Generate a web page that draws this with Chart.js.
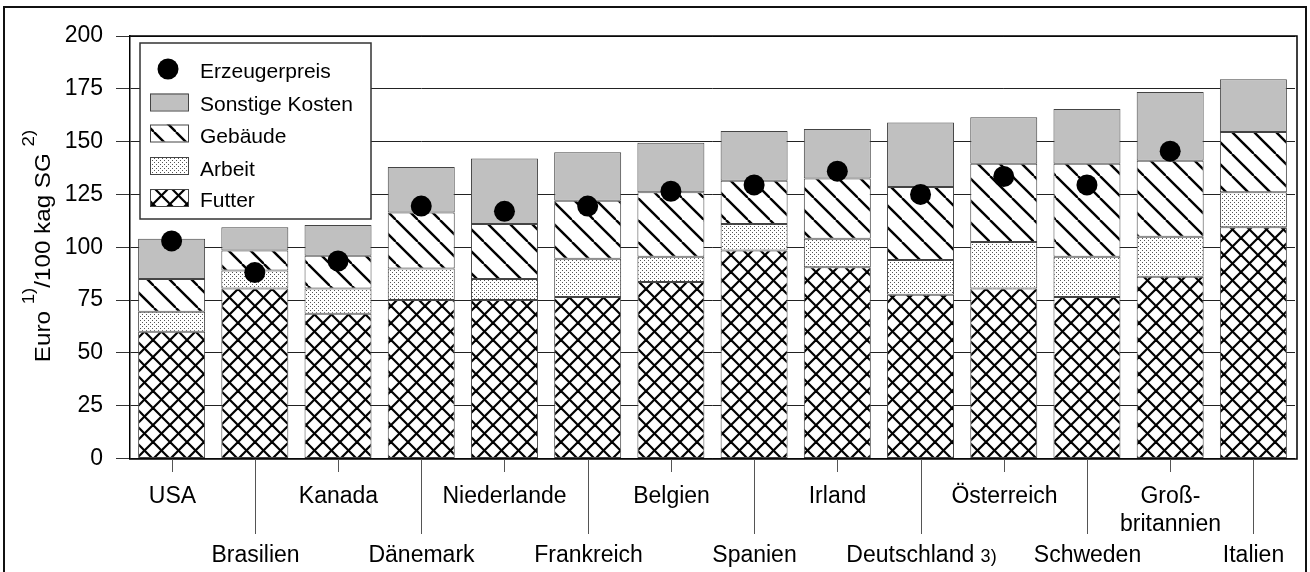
<!DOCTYPE html>
<html>
<head>
<meta charset="utf-8">
<script src="https://cdn.jsdelivr.net/npm/chart.js@4.4.1/dist/chart.umd.min.js"></script>
<style>
html,body{margin:0;padding:0;background:#fff;}
#wrap{width:1310px;height:572px;position:relative;}
</style>
</head>
<body>
<div id="wrap"><canvas id="c"></canvas></div>
<script>
// ---- data ----
const categories = ['USA','Brasilien','Kanada','Dänemark','Niederlande','Frankreich','Belgien','Spanien','Irland','Deutschland','Österreich','Schweden','Großbritannien','Italien'];
const tickLabels = [['USA'],['Brasilien'],['Kanada'],['Dänemark'],['Niederlande'],['Frankreich'],['Belgien'],['Spanien'],['Irland'],['Deutschland'],['Österreich'],['Schweden'],['Groß-','britannien'],['Italien']];
const tickFootnotes = ['','','','','','','','','','3)','','','',''];
const futter   = [60, 80.5, 68.5, 75, 75, 76.5, 83.5, 98.5, 90.5, 77.5, 80.5, 76.5, 86, 109.5];
const arbeit   = [9.5, 8.5, 12, 15, 10, 18, 12, 12.5, 13.5, 16.5, 22, 19, 19, 16.5];
const gebaeude = [15.5, 9.5, 15.5, 26.5, 26, 27.5, 30.5, 20.5, 28.5, 34.5, 37, 44, 36, 28.5];
const sonstige = [19, 11, 14.5, 21.5, 31, 23, 23.5, 23.5, 23.5, 30.5, 22, 26, 32.5, 25];
const erzeugerpreis = [103, 88, 93.5, 119.5, 117, 119.5, 126.5, 129.5, 136, 125, 133.5, 129.5, 145.5, null];
const yMin = 0, yMax = 200, yStep = 25;
const seriesNames = ['Futter','Arbeit','Gebäude','Sonstige Kosten','Erzeugerpreis'];
const yTitleParts = [['Euro ', false], ['1)', true], ['/100 kag SG ', false], ['2)', true]];

// ---- patterns ----
const canvas = document.getElementById('c');
const mainCtx = canvas.getContext('2d');
function makePattern(size, draw) {
  const c = document.createElement('canvas');
  c.width = size; c.height = size;
  const g = c.getContext('2d');
  g.fillStyle = '#fff'; g.fillRect(0, 0, size, size);
  draw(g, size);
  return mainCtx.createPattern(c, 'repeat');
}
const crossPattern = makePattern(17, (g, s) => {
  g.strokeStyle = '#000'; g.lineWidth = 2.2;
  for (const k of [-s, 0, s]) {
    g.beginPath(); g.moveTo(k, 0); g.lineTo(k + s, s); g.stroke();
    g.beginPath(); g.moveTo(k, s); g.lineTo(k + s, 0); g.stroke();
  }
});
const diagPattern = makePattern(22, (g, s) => {
  g.strokeStyle = '#000'; g.lineWidth = 2.4;
  for (const k of [-s, 0, s]) {
    g.beginPath(); g.moveTo(k, 0); g.lineTo(k + s, s); g.stroke();
  }
});
const dotPattern = makePattern(4, (g, s) => {
  g.fillStyle = '#555';
  g.fillRect(0, 0, 1, 1);
  g.fillRect(2, 2, 1, 1);
});
const grayFill = '#c0c0c0';
const FONT = '"Liberation Sans", Arial, sans-serif';

// ---- decoration plugin ----
const decor = {
  id: 'decor',
  afterDraw(chart) {
    const ctx = chart.ctx;
    const xs = chart.scales.x;
    const area = chart.chartArea;
    ctx.save();

    // plot frame (top/right) and x axis
    ctx.strokeStyle = '#000';
    ctx.lineWidth = 1.5;
    ctx.beginPath();
    ctx.moveTo(area.left - 1, area.bottom + 0.5);
    ctx.lineTo(area.right + 2, area.bottom + 0.5);
    ctx.lineTo(area.right + 2, area.top);
    ctx.lineTo(area.left, area.top);
    ctx.stroke();

    // x ticks and labels
    ctx.fillStyle = '#000';
    ctx.textAlign = 'center';
    ctx.textBaseline = 'alphabetic';
    for (let i = 0; i < categories.length; i++) {
      const x = Math.round(xs.getPixelForValue(i)) + 0.5;
      const low = i % 2 === 1;
      ctx.strokeStyle = '#555';
      ctx.lineWidth = 1;
      ctx.beginPath();
      ctx.moveTo(x, area.bottom + 1);
      ctx.lineTo(x, low ? 534 : 472);
      ctx.stroke();
      const lines = tickLabels[i];
      const base = low ? 562 : 503;
      lines.forEach((t, j) => {
        const y = base + j * 28;
        const fn = tickFootnotes[i];
        if (fn) {
          ctx.font = '23px ' + FONT;
          const w1 = ctx.measureText(t + ' ').width;
          ctx.font = '18px ' + FONT;
          const w2 = ctx.measureText(fn).width;
          const start = x - (w1 + w2) / 2;
          ctx.textAlign = 'left';
          ctx.font = '23px ' + FONT;
          ctx.fillText(t + ' ', start, y);
          ctx.font = '18px ' + FONT;
          ctx.fillText(fn, start + w1, y);
          ctx.textAlign = 'center';
        } else {
          ctx.font = '23px ' + FONT;
          ctx.fillText(t, x, y);
        }
      });
    }

    // y axis title
    const stretch = 1.1;
    let total = 0;
    for (const [t, sup] of yTitleParts) {
      ctx.font = (sup ? '17px ' : '22px ') + FONT;
      total += ctx.measureText(t).width;
    }
    const centerY = 246;
    ctx.save();
    ctx.translate(50, centerY + total * stretch / 2);
    ctx.rotate(-Math.PI / 2);
    ctx.scale(stretch, 1);
    ctx.textAlign = 'left';
    let px = 0;
    for (const [t, sup] of yTitleParts) {
      ctx.font = (sup ? '17px ' : '22px ') + FONT;
      ctx.fillText(t, px, sup ? -16 : 0);
      px += ctx.measureText(t).width;
    }
    ctx.restore();

    // legend
    ctx.fillStyle = '#fff';
    ctx.fillRect(140, 43, 231, 176);
    ctx.strokeStyle = '#333';
    ctx.lineWidth = 1.5;
    ctx.strokeRect(140, 43, 231, 176);
    const legendItems = [
      {name: seriesNames[4], kind: 'dot', base: 78},
      {name: seriesNames[3], fill: grayFill, top: 93.5, base: 111},
      {name: seriesNames[2], fill: diagPattern, top: 124.5, base: 143},
      {name: seriesNames[1], fill: dotPattern, top: 157, base: 175.5},
      {name: seriesNames[0], fill: crossPattern, top: 189, base: 207}
    ];
    ctx.font = '21px ' + FONT;
    ctx.textAlign = 'left';
    for (const it of legendItems) {
      if (it.kind === 'dot') {
        ctx.fillStyle = '#000';
        ctx.beginPath();
        ctx.arc(168, 69, 10.5, 0, Math.PI * 2);
        ctx.fill();
      } else {
        ctx.fillStyle = it.fill;
        ctx.fillRect(150, it.top, 38, 17);
        ctx.strokeStyle = '#444';
        ctx.lineWidth = 1;
        ctx.strokeRect(150.5, it.top + 0.5, 38, 17);
      }
      ctx.fillStyle = '#000';
      ctx.fillText(it.name, 200, it.base);
    }

    // outer frame
    ctx.strokeStyle = '#111';
    ctx.lineWidth = 2;
    ctx.strokeRect(4, 7, 1302, 600);
    ctx.restore();
  }
};

const barCommon = {
  borderColor: '#444',
  borderWidth: 1,
  borderSkipped: false,
  barPercentage: 0.805,
  categoryPercentage: 1.0,
  order: 1
};

new Chart(canvas, {
  type: 'bar',
  data: {
    labels: categories,
    datasets: [
      Object.assign({label: seriesNames[0], data: futter, backgroundColor: crossPattern}, barCommon),
      Object.assign({label: seriesNames[1], data: arbeit, backgroundColor: dotPattern}, barCommon),
      Object.assign({label: seriesNames[2], data: gebaeude, backgroundColor: diagPattern}, barCommon),
      Object.assign({label: seriesNames[3], data: sonstige, backgroundColor: grayFill}, barCommon),
      {
        type: 'line',
        label: seriesNames[4],
        data: erzeugerpreis,
        stack: 'preis',
        showLine: false,
        pointRadius: 10.5,
        pointHoverRadius: 10.5,
        pointBackgroundColor: '#000',
        pointBorderColor: '#000',
        pointBorderWidth: 0,
        order: 0
      }
    ]
  },
  options: {
    responsive: true,
    maintainAspectRatio: false,
    animation: false,
    events: [],
    layout: {padding: {top: 36, bottom: 113.5, left: 0, right: 15}},
    plugins: {legend: {display: false}, tooltip: {enabled: false}},
    scales: {
      x: {display: false, stacked: true, offset: true},
      y: {
        stacked: true,
        min: yMin,
        max: yMax,
        afterFit: (s) => { s.width = 130; },
        ticks: {stepSize: yStep, color: '#000', padding: 13, font: {family: 'Liberation Sans', size: 23}},
        grid: {color: '#222', lineWidth: 1, tickLength: 14, tickColor: '#333'},
        border: {color: '#000', width: 1.5}
      }
    }
  },
  plugins: [decor]
});
</script>
</body>
</html>
